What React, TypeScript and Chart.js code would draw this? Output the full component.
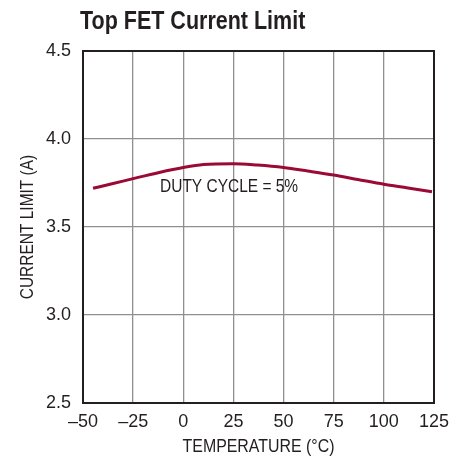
import React, { useEffect, useRef } from "react";
import { Chart, registerables } from "chart.js";

Chart.register(...registerables);

const temperatures = [-45, -35, -25, -12, 0, 10, 25, 37, 50, 62, 75, 87, 100, 112, 124];
const currentLimit = [3.72, 3.747, 3.775, 3.81, 3.838, 3.855, 3.86, 3.852, 3.838, 3.818, 3.795, 3.77, 3.743, 3.722, 3.70];
const xTicks = [-50, -25, 0, 25, 50, 75, 100, 125];
const yTicks = [2.5, 3.0, 3.5, 4.0, 4.5];
const chartTitle = "Top FET Current Limit";
const annotation = "DUTY CYCLE = 5%";
const xTitle = "TEMPERATURE (°C)";
const yTitle = "CURRENT LIMIT (A)";

const FONT = "'Liberation Sans', Arial, sans-serif";
const TEXT = "#231f20";
const SQUEEZE = 0.86;

function condensedText(ctx: any, text: string, x: number, y: number, align: string) {
  ctx.save();
  ctx.translate(x, y);
  ctx.scale(SQUEEZE, 1);
  ctx.textAlign = align;
  ctx.textBaseline = "alphabetic";
  ctx.fillText(text, 0, 0);
  ctx.restore();
}

export default function App() {
  const ref = useRef<HTMLCanvasElement | null>(null);
  useEffect(() => {
    if (!ref.current) return;
    const textPlugin = {
      id: "texts",
      afterDraw(chart: any) {
        const ctx = chart.ctx;
        const xs = chart.scales.x;
        const ys = chart.scales.y;
        const area = chart.chartArea;
        ctx.save();
        ctx.fillStyle = TEXT;
        ctx.font = `bold 25px ${FONT}`;
        condensedText(ctx, chartTitle, 80, 28.5, "left");
        ctx.font = `18px ${FONT}`;
        condensedText(ctx, annotation, xs.getPixelForValue(-11.6), ys.getPixelForValue(3.70), "left");
        ctx.font = `18.5px ${FONT}`;
        condensedText(ctx, xTitle, (area.left + area.right) / 2, 452, "center");
        ctx.save();
        ctx.translate(33, (area.top + area.bottom) / 2);
        ctx.rotate(-Math.PI / 2);
        ctx.font = `18px ${FONT}`;
        condensedText(ctx, yTitle, 0, 0, "center");
        ctx.restore();
        ctx.restore();
      },
    };
    const chart = new Chart(ref.current, {
      type: "line",
      data: {
        datasets: [
          {
            data: temperatures.map((t, i) => ({ x: t, y: currentLimit[i] })),
            borderColor: "#9b0a36",
            borderWidth: 3,
            pointRadius: 0,
            tension: 0.4,
            cubicInterpolationMode: "monotone",
            fill: false,
          },
        ],
      },
      options: {
        animation: false,
        responsive: false,
        maintainAspectRatio: false,
        layout: { padding: { left: 8, right: 30, top: 51, bottom: 0 } },
        plugins: { legend: { display: false }, tooltip: { enabled: false }, title: { display: false } },
        scales: {
          x: {
            type: "linear",
            min: -50,
            max: 125,
            afterBuildTicks: (s: any) => {
              s.ticks = xTicks.map((v) => ({ value: v }));
            },
            afterFit: (s: any) => {
              s.height = 59;
            },
            ticks: {
              padding: 8,
              color: TEXT,
              font: { family: FONT, size: 18 },
              callback: (v: any) => String(v).replace("-", "\u2013"),
              maxRotation: 0,
            },
            grid: { color: "#8f8f8f", lineWidth: 1.3, drawTicks: false },
            border: { color: "#231f20", width: 2 },
          },
          y: {
            type: "linear",
            min: 2.5,
            max: 4.5,
            afterBuildTicks: (s: any) => {
              s.ticks = yTicks.map((v) => ({ value: v }));
            },
            afterFit: (s: any) => {
              s.width = 75;
            },
            ticks: {
              padding: 12,
              color: TEXT,
              font: { family: FONT, size: 18 },
              callback: (v: any) => Number(v).toFixed(1),
            },
            grid: { color: "#8f8f8f", lineWidth: 1.3, drawTicks: false },
            border: { color: "#231f20", width: 2 },
          },
        },
      },
      plugins: [
        textPlugin,
        {
          id: "frame",
          afterDatasetsDraw(chart: any) {
            const { left, right, top, bottom } = chart.chartArea;
            const ctx = chart.ctx;
            ctx.save();
            ctx.strokeStyle = "#231f20";
            ctx.lineWidth = 2;
            ctx.strokeRect(left, top, right - left, bottom - top);
            ctx.restore();
          },
        },
      ],
    } as any);
    return () => chart.destroy();
  }, []);
  return (
    <div style={{ position: "fixed", left: 0, top: 0, width: 464, height: 462, background: "#fff" }}>
      <canvas ref={ref} width={464} height={462} />
    </div>
  );
}
